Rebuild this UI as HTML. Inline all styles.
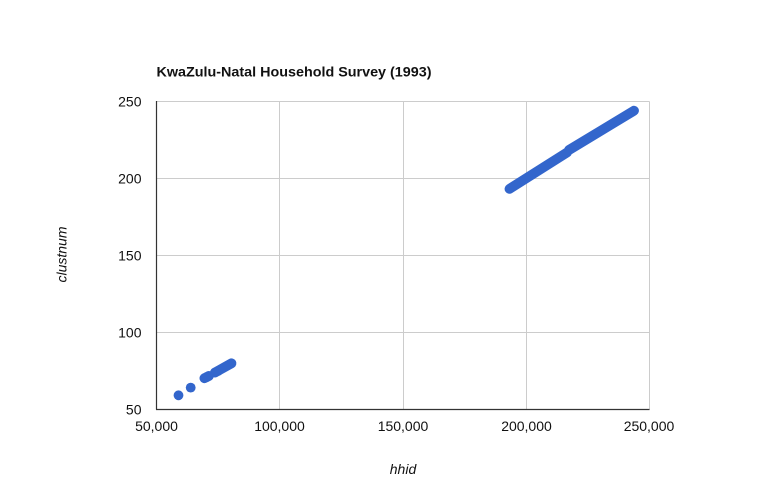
<!DOCTYPE html>
<html>
<head>
<meta charset="utf-8">
<style>
  html, body { margin: 0; padding: 0; background: #ffffff; }
  svg { display: block; }
  text { font-family: "Liberation Sans", Arial, sans-serif; fill: #111111; }
</style>
</head>
<body>
<svg width="778" height="503" viewBox="0 0 778 503" xmlns="http://www.w3.org/2000/svg">
  <rect x="0" y="0" width="778" height="503" fill="#ffffff"/>

  <!-- Title -->
  <text x="156.5" y="76.5" font-size="14.2" font-weight="bold" fill="#000000" textLength="275" lengthAdjust="spacingAndGlyphs">KwaZulu-Natal Household Survey (1993)</text>

  <!-- Gridlines -->
  <g stroke="#cccccc" stroke-width="1" fill="none">
    <line x1="156.5" y1="101.5" x2="649.5" y2="101.5"/>
    <line x1="156.5" y1="178.5" x2="649.5" y2="178.5"/>
    <line x1="156.5" y1="255.5" x2="649.5" y2="255.5"/>
    <line x1="156.5" y1="332.5" x2="649.5" y2="332.5"/>
    <line x1="279.5" y1="101.5" x2="279.5" y2="409.5"/>
    <line x1="403.5" y1="101.5" x2="403.5" y2="409.5"/>
    <line x1="526.5" y1="101.5" x2="526.5" y2="409.5"/>
    <line x1="649.5" y1="101.5" x2="649.5" y2="409.5"/>
  </g>

  <!-- Axes -->
  <g stroke="#333333" stroke-width="1.2" fill="none">
    <line x1="156.5" y1="101" x2="156.5" y2="409.5"/>
    <line x1="156" y1="409.5" x2="649.5" y2="409.5"/>
  </g>

  <!-- Y tick labels -->
  <g font-size="14" text-anchor="end">
    <text x="141.5" y="106.5">250</text>
    <text x="141.5" y="183.5">200</text>
    <text x="141.5" y="260.5">150</text>
    <text x="141.5" y="337.5">100</text>
    <text x="141.5" y="414.5">50</text>
  </g>

  <!-- X tick labels -->
  <g font-size="14" text-anchor="middle">
    <text x="156.5" y="431">50,000</text>
    <text x="279.5" y="431">100,000</text>
    <text x="403" y="431">150,000</text>
    <text x="526.5" y="431">200,000</text>
    <text x="649" y="431">250,000</text>
  </g>

  <!-- Axis titles -->
  <text x="403" y="474" font-size="14" font-style="italic" text-anchor="middle">hhid</text>
  <text transform="translate(66.5,254.5) rotate(-90)" font-size="14" font-style="italic" text-anchor="middle">clustnum</text>

  <!-- Data points -->
  <g fill="#3366cc" stroke="none">
    <circle cx="178.5" cy="395.3" r="4.9"/>
    <circle cx="190.7" cy="387.6" r="4.9"/>
    <circle cx="204.5" cy="378.2" r="4.9"/>
    <circle cx="206.5" cy="377.2" r="4.9"/>
    <circle cx="208.8" cy="376.0" r="4.9"/>
    <circle cx="215" cy="372.5" r="4.9"/>
    <circle cx="218" cy="371" r="4.9"/>
  </g>
  <g stroke="#3366cc" stroke-linecap="round" fill="none" stroke-width="9.8">
    <line x1="204.5" y1="378.2" x2="208.8" y2="376.0"/>
    <line x1="215" y1="372.5" x2="231.5" y2="363.3"/>
    <line x1="509.5" y1="188.9" x2="567" y2="152.5"/>
    <line x1="569" y1="150" x2="634" y2="110.7"/>
  </g>
</svg>
</body>
</html>
